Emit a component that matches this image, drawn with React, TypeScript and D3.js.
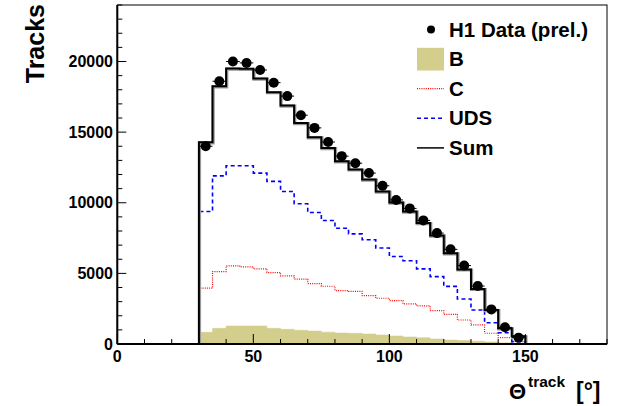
import React from 'react';
import * as d3 from 'd3';

// Bin centres (degrees), 5 degree bins from 30 to 150
const binCenters = [32.5, 37.5, 42.5, 47.5, 52.5, 57.5, 62.5, 67.5, 72.5, 77.5, 82.5, 87.5,
  92.5, 97.5, 102.5, 107.5, 112.5, 117.5, 122.5, 127.5, 132.5, 137.5, 142.5, 147.5];
const binHalfWidth = 2.5;

const dataValues = [14000, 18600, 20000, 19900, 19400, 18500, 17550, 16200, 15300, 14300, 13300, 12800,
  12100, 11200, 10200, 9600, 8750, 7850, 6700, 5550, 4100, 2450, 1180, 450];
const sumValues = [14280, 18250, 19500, 19480, 18800, 17830, 16880, 15650, 14630, 13880, 12930, 12360,
  11650, 10800, 10020, 9380, 8560, 7680, 6430, 5280, 3900, 2400, 1110, 550];
const udsValues = [9380, 11900, 12620, 12620, 12100, 11510, 10800, 9930, 9310, 8740, 8190, 7800,
  7380, 6800, 6190, 5890, 5320, 4770, 4080, 3190, 2410, 1500, 800, 170];
const cValues = [3950, 5130, 5530, 5460, 5320, 5060, 4820, 4590, 4280, 4090, 3780, 3730,
  3420, 3240, 3070, 2840, 2700, 2360, 2100, 1700, 1350, 760, 450, 160];
const bValues = [830, 1110, 1280, 1280, 1280, 1110, 1040, 970, 920, 840, 780, 760,
  710, 640, 570, 500, 450, 355, 280, 240, 200, 150, 80, 30];

const xMajorTicks = [0, 50, 100, 150];
const yMajorTicks = [0, 5000, 10000, 15000, 20000];
const legendLabels = ['H1 Data (prel.)', 'B', 'C', 'UDS', 'Sum'];

const W = 623;
const H = 406;
const FONT = "'Liberation Sans', Arial, Helvetica, sans-serif";

const x = d3.scaleLinear().domain([0, 180]).range([117.3, 607]);
const y = d3.scaleLinear().domain([0, 24000]).range([344, 5]);

function stepPoints(vals: number[]): [number, number][] {
  const pts: [number, number][] = [[binCenters[0] - binHalfWidth, 0]];
  vals.forEach((v, i) => pts.push([binCenters[i] - binHalfWidth, v]));
  const last = binCenters.length - 1;
  pts.push([binCenters[last] + binHalfWidth, vals[last]]);
  pts.push([binCenters[last] + binHalfWidth, 0]);
  return pts;
}

const stepLine = d3
  .line<[number, number]>()
  .x((d) => x(d[0]))
  .y((d) => y(d[1]))
  .curve(d3.curveStepAfter);

export default function App() {
  const xMinor = x.ticks(18);
  const yMinor = y.ticks(24);
  const left = x.range()[0];
  const right = x.range()[1];
  const bottom = y.range()[0];
  const top = y.range()[1];

  const legendY = (i: number) => 36.5 + i * 29.6;

  return (
    <svg
      width={W}
      height={H}
      style={{ position: 'absolute', left: 0, top: 0, display: 'block', background: '#fff' }}
      fontFamily={FONT}
    >
      <rect x={0} y={0} width={W} height={H} fill="#fff" />
      {/* frame */}
      <rect x={left} y={top} width={right - left} height={bottom - top} fill="none" stroke="#000" strokeWidth={1} />

      {/* B filled histogram */}
      <path d={stepLine(stepPoints(bValues)) + 'Z'} fill="#d3ce8c" stroke="#d3ce8c" strokeWidth={0.5} />
      {/* C */}
      <path d={stepLine(stepPoints(cValues)) || ''} fill="none" stroke="#ff0000" strokeWidth={1.2} strokeDasharray="1,1.2" />
      {/* UDS */}
      <path d={stepLine(stepPoints(udsValues)) || ''} fill="none" stroke="#0000ff" strokeWidth={1.6} strokeDasharray="4,3" />
      {/* Sum */}
      <path d={stepLine(stepPoints(sumValues)) || ''} fill="none" stroke="#9a9a9a" strokeWidth={3.2} transform="translate(0.6,0.6)" />
      <path d={stepLine(stepPoints(sumValues)) || ''} fill="none" stroke="#000" strokeWidth={2} />

      {/* data points */}
      {dataValues.map((v, i) => (
        <g key={i}>
          <line
            x1={x(binCenters[i] - binHalfWidth)}
            x2={x(binCenters[i] + binHalfWidth)}
            y1={y(v)}
            y2={y(v)}
            stroke="#000"
            strokeWidth={1}
          />
          <circle cx={x(binCenters[i])} cy={y(v)} r={5} fill="#000" />
        </g>
      ))}

      {/* axes lines */}
      <line x1={left} x2={right} y1={bottom} y2={bottom} stroke="#000" strokeWidth={2} />
      <line x1={left} x2={left} y1={top} y2={bottom} stroke="#000" strokeWidth={2} />

      {/* x ticks */}
      {xMinor.map((t) => (
        <line key={'xm' + t} x1={x(t)} x2={x(t)} y1={bottom} y2={bottom - (xMajorTicks.includes(t) ? 10 : 5)} stroke="#000" strokeWidth={1} />
      ))}
      {xMajorTicks.map((t) => (
        <text key={'xl' + t} x={x(t)} y={362} textAnchor="middle" fontSize={16} fontWeight="bold">
          {t}
        </text>
      ))}

      {/* y ticks */}
      {yMinor.map((t) => (
        <line key={'ym' + t} x1={left} x2={left + (yMajorTicks.includes(t) ? 9 : 5)} y1={y(t)} y2={y(t)} stroke="#000" strokeWidth={1} />
      ))}
      {yMajorTicks.map((t) => (
        <text key={'yl' + t} x={113} y={y(t) + 5.5} textAnchor="end" fontSize={16} fontWeight="bold">
          {t}
        </text>
      ))}

      {/* axis titles */}
      <text transform="translate(44,4) rotate(-90)" textAnchor="end" fontSize={25} fontWeight="bold">
        Tracks
      </text>
      <text x={509} y={399} fontSize={22} fontWeight="bold">Θ</text>
      <text x={528} y={387} fontSize={15.5} fontWeight="bold">track</text>
      <text x={576} y={399} fontSize={23} fontWeight="bold">[°]</text>

      {/* legend */}
      {legendLabels.map((label, i) => {
        const yb = legendY(i);
        const yc = yb - 7;
        let sym = null;
        if (i === 0) sym = <circle cx={431} cy={yc} r={4} fill="#000" />;
        if (i === 1) sym = <rect x={417} y={yc - 11.3} width={27} height={22.7} fill="#d3ce8c" />;
        if (i === 2) sym = <line x1={417} x2={444} y1={yc} y2={yc} stroke="#ff0000" strokeWidth={1.2} strokeDasharray="1,1.2" />;
        if (i === 3) sym = <line x1={417} x2={444} y1={yc} y2={yc} stroke="#0000ff" strokeWidth={1.6} strokeDasharray="4,3" />;
        if (i === 4) sym = <line x1={417} x2={444} y1={yc} y2={yc} stroke="#000" strokeWidth={1.5} />;
        return (
          <g key={label}>
            {sym}
            <text x={449} y={yb} fontSize={20.5} fontWeight="bold">
              {label}
            </text>
          </g>
        );
      })}
    </svg>
  );
}
